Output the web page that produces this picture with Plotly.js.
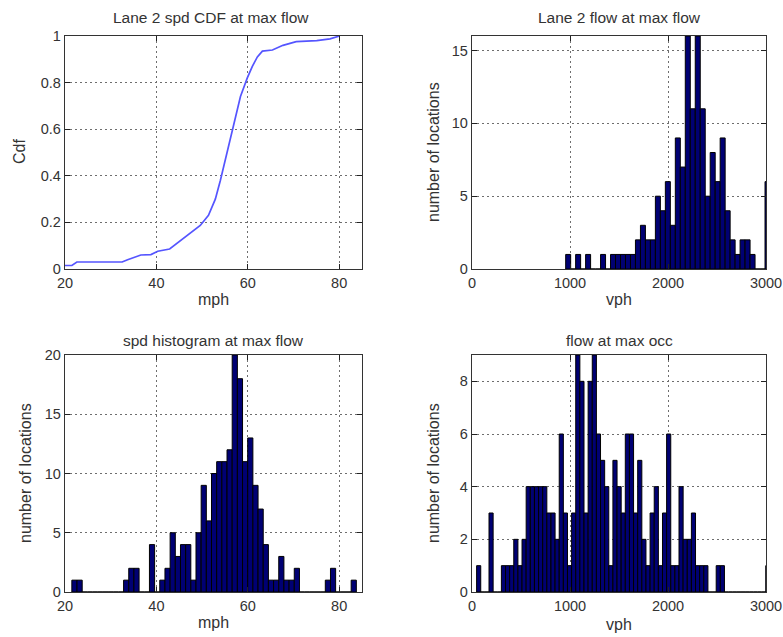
<!DOCTYPE html>
<html>
<head>
<meta charset="utf-8">
<script src="https://cdn.plot.ly/plotly-3.0.1.min.js"></script>
<style>
  html, body { margin: 0; padding: 0; background: #ffffff; }
  #chart { width: 783px; height: 637px; }
</style>
</head>
<body>
<div id="chart"></div>
<script>
// ---------- DATA ----------
// Panel 1: Lane 2 speed CDF at max flow
const cdfSpeedMph = [20, 21.5, 22.6, 32.5, 33.7, 36.6, 38.8, 40.3, 42.9, 45.1, 47.3, 49.6, 51.4, 52.9, 54.0, 55.1, 56.2, 57.3, 58.4, 59.9, 61.0, 62.1, 63.2, 65.4, 67.7, 70.6, 75.1, 78.0, 79.5, 80.1];
const cdfFraction = [0.015, 0.015, 0.03, 0.03, 0.04, 0.06, 0.062, 0.076, 0.086, 0.12, 0.155, 0.187, 0.23, 0.30, 0.38, 0.47, 0.57, 0.66, 0.74, 0.82, 0.87, 0.91, 0.935, 0.94, 0.96, 0.976, 0.98, 0.988, 0.998, 1.0];

// Panel 2: Lane 2 flow at max flow (histogram, vph)
const lane2FlowBinStart = 956;
const lane2FlowBinWidth = 50.85;
const lane2FlowCounts = [1, 0, 1, 0, 1, 0, 0, 1, 0, 1, 1, 1, 1, 1, 2, 3, 2, 2, 5, 4, 6, 3, 9, 7, 16, 11, 16, 11, 5, 8, 6, 9, 4, 2, 1, 2, 2, 1, 0, 0, 6];

// Panel 3: speed histogram at max flow (mph)
const spdBinStart = 21.5;
const spdBinWidth = 1.132;
const spdCounts = [1, 1, 0, 0, 0, 0, 0, 0, 0, 0, 1, 2, 2, 0, 0, 4, 0, 1, 2, 5, 3, 4, 4, 1, 5, 9, 6, 10, 11, 11, 12, 20, 18, 11, 13, 9, 7, 4, 1, 1, 3, 1, 1, 2, 0, 0, 0, 0, 0, 1, 2, 0, 0, 0, 1];

// Panel 4: flow at max occupancy (histogram, vph)
const occFlowBinStart = 47;
const occFlowBinWidth = 42.15;
const occFlowCounts = [1, 0, 0, 3, 0, 0, 1, 1, 1, 2, 1, 2, 4, 4, 4, 4, 4, 3, 3, 2, 6, 3, 1, 3, 9, 8, 3, 8, 9, 6, 5, 4, 1, 5, 4, 3, 6, 6, 3, 5, 2, 1, 3, 4, 1, 3, 6, 1, 1, 4, 2, 2, 3, 1, 1, 1, 0, 0, 1, 1, 0, 0, 0, 0, 0, 0, 0, 0, 0, 0, 1];

// Titles and tick labels
const panelTitles = ["Lane 2 spd CDF at max flow", "Lane 2 flow at max flow", "spd histogram at max flow", "flow at max occ"];
const xTitles = ["mph", "vph", "mph", "vph"];
const yTitles = ["Cdf", "number of locations", "number of locations", "number of locations"];
const mphTicks = [20, 40, 60, 80];
const vphTicks = [0, 1000, 2000, 3000];
const cdfTicks = [0, 0.2, 0.4, 0.6, 0.8, 1];
const cdfTickText = ["0", "0.2", "0.4", "0.6", "0.8", "1"];
const lane2Ticks = [0, 5, 10, 15];
const spdTicks = [0, 5, 10, 15, 20];
const occTicks = [0, 2, 4, 6, 8];

// ---------- helpers ----------
function binCenters(start, width, n) {
  const c = [];
  for (let i = 0; i < n; i++) c.push(start + width * (i + 0.5));
  return c;
}
const W = 783, H = 637;
const px = v => v / W;
const py = v => 1 - v / H;

const FONT = "Liberation Sans, Arial, Helvetica, sans-serif";
const TXT = "#333333";
const barColor = "rgb(0,0,115)";

const traces = [
  {
    type: "scatter", mode: "lines",
    x: cdfSpeedMph, y: cdfFraction,
    line: { color: "rgb(85,85,255)", width: 1.7 },
    xaxis: "x", yaxis: "y", hoverinfo: "x+y"
  },
  {
    type: "bar",
    x: binCenters(lane2FlowBinStart, lane2FlowBinWidth, lane2FlowCounts.length),
    y: lane2FlowCounts, width: lane2FlowBinWidth,
    marker: { color: barColor, line: { color: "#000", width: 1 } },
    xaxis: "x2", yaxis: "y2"
  },
  {
    type: "bar",
    x: binCenters(spdBinStart, spdBinWidth, spdCounts.length),
    y: spdCounts, width: spdBinWidth,
    marker: { color: barColor, line: { color: "#000", width: 1 } },
    xaxis: "x3", yaxis: "y3"
  },
  {
    type: "bar",
    x: binCenters(occFlowBinStart, occFlowBinWidth, occFlowCounts.length),
    y: occFlowCounts, width: occFlowBinWidth,
    marker: { color: barColor, line: { color: "#000", width: 1 } },
    xaxis: "x4", yaxis: "y4"
  }
];

const leftDom = [px(65), px(362)];
const rightDom = [px(472), px(766)];
const topDom = [1 - 269 / H, 1 - 36 / H];
const botDom = [1 - 592 / H, 1 - 355 / H];

function axis(extra) {
  return Object.assign({
    showline: true, linecolor: "#333", linewidth: 1.2, mirror: "ticks",
    ticks: "inside", ticklen: 5, tickcolor: "#222", tickwidth: 1,
    showgrid: true, gridcolor: "#6e6e6e", gridwidth: 1, griddash: "2px,3px",
    zeroline: false, fixedrange: true, ticklabeloverflow: "allow",
    tickfont: { family: FONT, size: 14.5, color: TXT }
  }, extra);
}

const layout = {
  width: W, height: H,
  margin: { l: 0, r: 0, t: 0, b: 0 },
  paper_bgcolor: "#fff", plot_bgcolor: "#fff",
  showlegend: false, bargap: 0,
  xaxis: axis({ domain: leftDom, anchor: "y", range: [20, 85], tickvals: mphTicks }),
  yaxis: axis({ domain: topDom, anchor: "x", range: [0, 1], tickvals: cdfTicks, ticktext: cdfTickText }),
  xaxis2: axis({ domain: rightDom, anchor: "y2", range: [0, 3000], tickvals: vphTicks }),
  yaxis2: axis({ domain: topDom, anchor: "x2", range: [0, 16], tickvals: lane2Ticks }),
  xaxis3: axis({ domain: leftDom, anchor: "y3", range: [20, 85], tickvals: mphTicks }),
  yaxis3: axis({ domain: botDom, anchor: "x3", range: [0, 20], tickvals: spdTicks }),
  xaxis4: axis({ domain: rightDom, anchor: "y4", range: [0, 3000], tickvals: vphTicks }),
  yaxis4: axis({ domain: botDom, anchor: "x4", range: [0, 9], tickvals: occTicks }),
  annotations: []
};

const titleFont = { family: FONT, size: 15.5, color: TXT };
const labFont = { family: FONT, size: 16, color: TXT };
const titlePos = [[211, 18], [619, 18], [213, 340], [619, 340]];
const xTitlePos = [[213.5, 299], [619, 299], [213.5, 622], [619, 624]];
const yTitlePos = [[19, 152], [433, 152], [25, 473], [433, 473]];
for (let i = 0; i < 4; i++) {
  layout.annotations.push({ text: panelTitles[i], xref: "paper", yref: "paper", x: px(titlePos[i][0]), y: py(titlePos[i][1]), xanchor: "center", yanchor: "middle", showarrow: false, font: titleFont });
  layout.annotations.push({ text: xTitles[i], xref: "paper", yref: "paper", x: px(xTitlePos[i][0]), y: py(xTitlePos[i][1]), xanchor: "center", yanchor: "middle", showarrow: false, font: labFont });
  layout.annotations.push({ text: yTitles[i], xref: "paper", yref: "paper", x: px(yTitlePos[i][0]), y: py(yTitlePos[i][1]), xanchor: "center", yanchor: "middle", showarrow: false, textangle: -90, font: labFont });
}

Plotly.newPlot("chart", traces, layout, { displayModeBar: false, staticPlot: true });
</script>
</body>
</html>
